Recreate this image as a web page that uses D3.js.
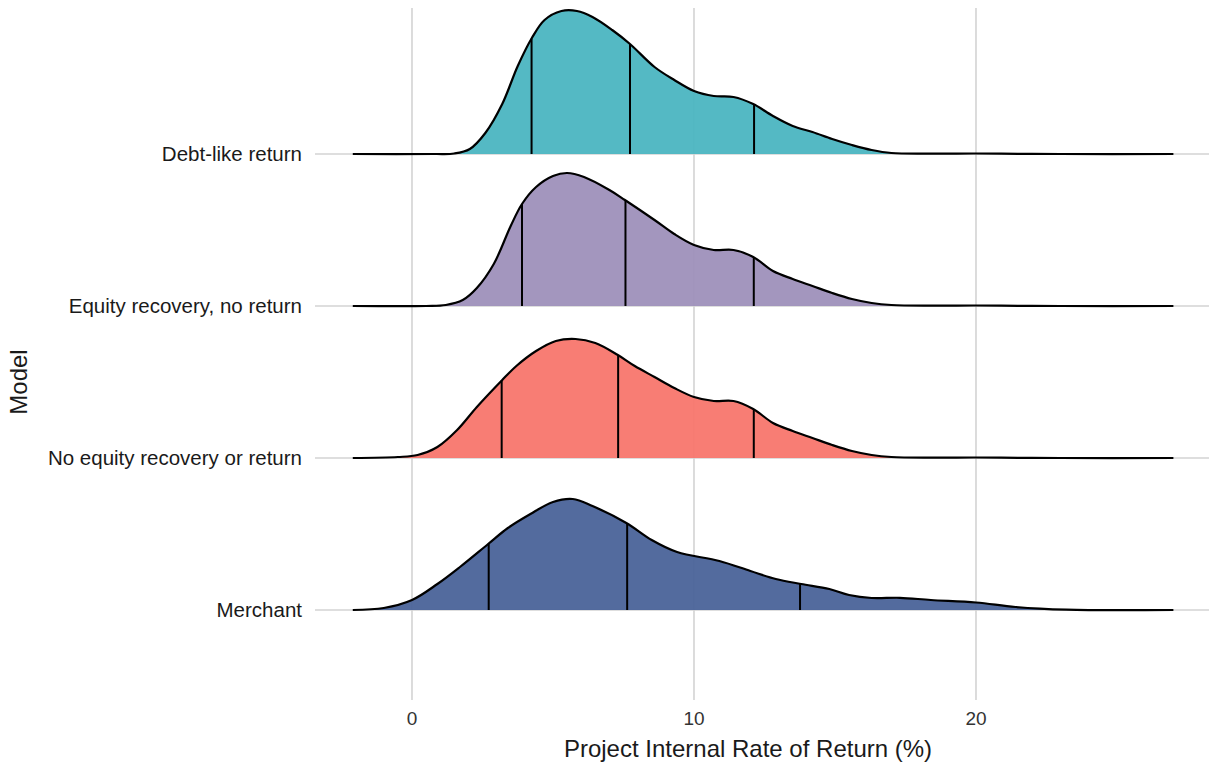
<!DOCTYPE html>
<html>
<head>
<meta charset="utf-8">
<script src="https://cdn.jsdelivr.net/npm/d3@7"></script>
<style>
body { margin: 0; background: #fff; }
text { font-family: Arial, "Liberation Sans", sans-serif; fill: #1a1a1a; }
</style>
</head>
<body>
<div id="chart"></div>
<script>
var W = 1209, H = 767;

// categories, bottom to top
var models = ['Merchant', 'No equity recovery or return', 'Equity recovery, no return', 'Debt-like return'];
var colors = ['#4a6399', '#f8766d', '#9e90bb', '#4bb5c1'];
var xTicks = [0, 10, 20];

// density curves: [IRR %, density]
var merchant = [[-2.1, 0], [-1, 0.002], [0, 0.010], [0.9, 0.026], [1.7, 0.043], [2.7, 0.066], [3.4, 0.082],
    [4.2, 0.096], [5.0, 0.108], [5.7, 0.111], [6.4, 0.104], [7.6, 0.087], [8.5, 0.070], [9.4, 0.058],
    [10.9, 0.049], [12.0, 0.039], [12.9, 0.031], [13.8, 0.026], [14.8, 0.021], [15.5, 0.015], [16.3, 0.012],
    [17.3, 0.0122], [18.4, 0.010], [20, 0.0075], [21.4, 0.003], [23.2, 0.0003], [27, 0]];
var noEquity = [[-2.1, 0], [-0.5, 0.001], [0.2, 0.003], [0.9, 0.011], [1.6, 0.028], [2.3, 0.051], [3.2, 0.078],
    [3.7, 0.092], [4.4, 0.107], [5.1, 0.117], [5.8, 0.119], [6.5, 0.115], [7.3, 0.103], [7.9, 0.092],
    [8.6, 0.081], [9.3, 0.070], [10.0, 0.061], [10.7, 0.057], [11.4, 0.057], [12.1, 0.049], [12.8, 0.035],
    [13.5, 0.027], [14.2, 0.020], [14.9, 0.013], [15.6, 0.007], [16.3, 0.003], [17.0, 0.001], [18.5, 0.0004],
    [20, 0.0005], [21.5, 0.0002], [23, 0], [27, 0]];
var equityRecovery = [[-2.1, 0], [0.5, 0], [1.2, 0.001], [1.8, 0.006], [2.3, 0.018], [2.9, 0.042], [3.5, 0.080],
    [3.9, 0.102], [4.4, 0.119], [5.0, 0.130], [5.5, 0.133], [6.1, 0.129], [7.0, 0.116], [7.55, 0.106],
    [8.6, 0.086], [9.3, 0.072], [10.0, 0.061], [10.7, 0.056], [11.4, 0.056], [12.1, 0.049], [12.8, 0.035],
    [13.5, 0.027], [14.2, 0.020], [14.9, 0.013], [15.6, 0.007], [16.3, 0.003], [17.0, 0.001], [18.5, 0.0004],
    [20, 0.0005], [21.5, 0.0002], [23, 0], [27, 0]];
var debtLike = [[-2.1, 0], [0.8, 0], [1.5, 0.0005], [2.05, 0.005], [2.6, 0.021], [3.2, 0.050], [3.75, 0.088],
    [4.25, 0.116], [4.7, 0.134], [5.3, 0.143], [5.85, 0.143], [6.4, 0.137], [7.1, 0.124], [7.73, 0.110],
    [8.6, 0.087], [9.3, 0.074], [10.0, 0.063], [10.7, 0.058], [11.4, 0.057], [12.1, 0.050], [12.8, 0.038],
    [13.5, 0.028], [14.2, 0.022], [14.9, 0.015], [15.6, 0.009], [16.3, 0.004], [17.0, 0.001], [18.5, 0.0004],
    [20, 0.0005], [21.5, 0.0002], [23, 0], [27, 0]];
var curves = [merchant, noEquity, equityRecovery, debtLike];

// quartiles (25%, 50%, 75%)
var quartiles = [[2.72, 7.63, 13.76], [3.18, 7.31, 12.12], [3.9, 7.57, 12.12], [4.24, 7.73, 12.13]];

var svg = d3.select('#chart').append('svg')
    .attr('width', W)
    .attr('height', H);

var x = d3.scaleLinear().domain([0, 20]).range([412, 976]);
var y = d3.scalePoint().domain(models).range([610, 154]);
var h = d3.scaleLinear().domain([0, 0.1]).range([0, 100]);

// grid
svg.selectAll('.vgrid')
    .data(xTicks)
    .enter()
    .append('line')
    .attr('x1', d => x(d)).attr('x2', d => x(d))
    .attr('y1', 8).attr('y2', 700)
    .attr('stroke', '#d3d3d3')
    .attr('stroke-width', 1.6);

svg.selectAll('.hgrid')
    .data(models)
    .enter()
    .append('line')
    .attr('x1', 315).attr('x2', W)
    .attr('y1', d => y(d)).attr('y2', d => y(d))
    .attr('stroke', '#d3d3d3')
    .attr('stroke-width', 1.6);

function heightAt(pts, v) {
    for (var i = 1; i < pts.length; i++) {
        if (pts[i][0] >= v) {
            var t = (v - pts[i - 1][0]) / (pts[i][0] - pts[i - 1][0]);
            return pts[i - 1][1] + t * (pts[i][1] - pts[i - 1][1]);
        }
    }
    return 0;
}

// ridges, top one drawn first so lower ridges sit on top
for (var k = models.length - 1; k >= 0; k--) {
    var base = y(models[k]);
    var smooth = d3.curveCatmullRom.alpha(0.5);
    var area = d3.area()
        .curve(smooth)
        .x(d => x(d[0]))
        .y0(base)
        .y1(d => Math.min(base, base - h(d[1])));
    var line = d3.line()
        .curve(smooth)
        .x(d => x(d[0]))
        .y(d => base - h(d[1]));

    svg.append('path')
        .datum(curves[k])
        .attr('d', area)
        .attr('fill', colors[k])
        .attr('fill-opacity', 0.95);

    svg.selectAll('.q' + k)
        .data(quartiles[k])
        .enter()
        .append('line')
        .attr('x1', d => x(d)).attr('x2', d => x(d))
        .attr('y1', base)
        .attr('y2', d => base - h(heightAt(curves[k], d)))
        .attr('stroke', '#000')
        .attr('stroke-width', 2);

    svg.append('path')
        .datum(curves[k])
        .attr('d', line)
        .attr('fill', 'none')
        .attr('stroke', '#000')
        .attr('stroke-width', 2.2);
}

// axis labels
svg.selectAll('.xtick')
    .data(xTicks)
    .enter()
    .append('text')
    .attr('x', d => x(d))
    .attr('y', 725)
    .attr('text-anchor', 'middle')
    .style('font-size', '19px')
    .style('fill', '#333')
    .text(d => d);

svg.selectAll('.ylab')
    .data(models)
    .enter()
    .append('text')
    .attr('x', 302)
    .attr('y', d => y(d) + 7)
    .attr('text-anchor', 'end')
    .style('font-size', '20.5px')
    .text(d => d);

svg.append('text')
    .attr('x', 748)
    .attr('y', 757)
    .attr('text-anchor', 'middle')
    .style('font-size', '24px')
    .text('Project Internal Rate of Return (%)');

svg.append('text')
    .attr('transform', 'translate(27, 382) rotate(-90)')
    .attr('text-anchor', 'middle')
    .style('font-size', '24px')
    .text('Model');
</script>
</body>
</html>
